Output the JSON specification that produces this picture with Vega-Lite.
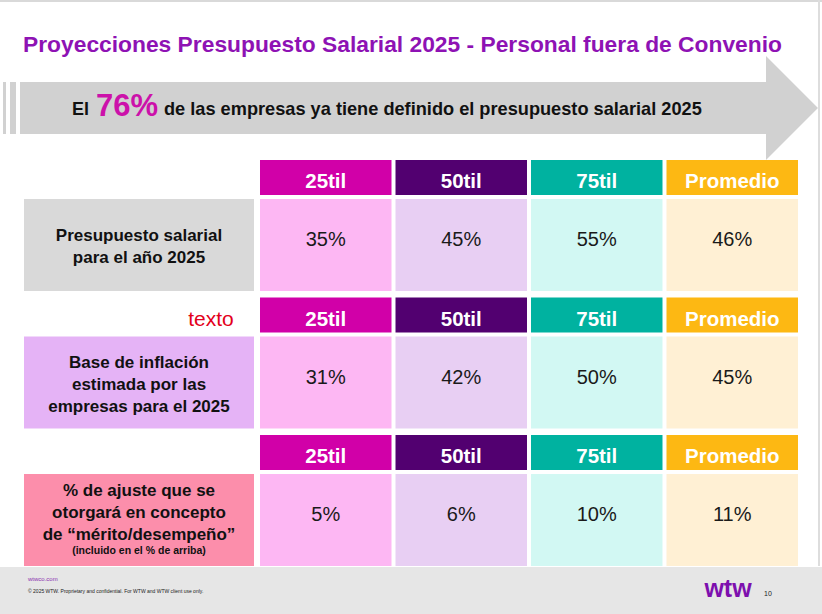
{
  "$schema": "https://vega.github.io/schema/vega-lite/v6.json",
  "width": 822,
  "height": 614,
  "padding": 0,
  "autosize": {"type": "none"},
  "background": "#ffffff",
  "config": {
    "view": {"stroke": null},
    "axis": {"disable": true},
    "legend": {"disable": true},
    "text": {"font": "Liberation Sans"}
  },
  "datasets": {
    "celdas": [
      {"indicador": "Presupuesto salarial 2025", "percentil": "25til", "valor": 0.35},
      {"indicador": "Presupuesto salarial 2025", "percentil": "50til", "valor": 0.45},
      {"indicador": "Presupuesto salarial 2025", "percentil": "75til", "valor": 0.55},
      {"indicador": "Presupuesto salarial 2025", "percentil": "Promedio", "valor": 0.46},
      {"indicador": "Base de inflación 2025", "percentil": "25til", "valor": 0.31},
      {"indicador": "Base de inflación 2025", "percentil": "50til", "valor": 0.42},
      {"indicador": "Base de inflación 2025", "percentil": "75til", "valor": 0.50},
      {"indicador": "Base de inflación 2025", "percentil": "Promedio", "valor": 0.45},
      {"indicador": "Ajuste por mérito", "percentil": "25til", "valor": 0.05},
      {"indicador": "Ajuste por mérito", "percentil": "50til", "valor": 0.06},
      {"indicador": "Ajuste por mérito", "percentil": "75til", "valor": 0.10},
      {"indicador": "Ajuste por mérito", "percentil": "Promedio", "valor": 0.11}
    ],
    "filas": [
      {"indicador": "Presupuesto salarial 2025", "concepto": "Presupuesto salarial\npara el año 2025"},
      {"indicador": "Base de inflación 2025", "concepto": "Base de inflación\nestimada por las\nempresas para el 2025"},
      {"indicador": "Ajuste por mérito", "concepto": "% de ajuste que se\notorgará en concepto\nde “mérito/desempeño”", "nota": "(incluido en el % de arriba)"}
    ]
  },
  "resolve": {"scale": {"x": "independent", "y": "independent", "fill": "independent", "color": "independent"}},
  "layer": [
    {
      "data": {"values": [{"zona": "borde superior"}]},
      "mark": {"type": "rect", "fill": "#d9d9d9"},
      "encoding": {
        "x": {"field": "zona", "type": "nominal", "scale": {"type": "band", "paddingInner": 0, "paddingOuter": 0}},
        "y": {"field": "zona", "type": "nominal", "scale": {"type": "band", "paddingInner": 0.99346, "paddingOuter": 1, "align": 0}}
      }
    },
    {
      "data": {"values": [{"zona": "borde derecho"}]},
      "mark": {"type": "rect", "fill": "#dddddd"},
      "encoding": {
        "x": {"field": "zona", "type": "nominal", "scale": {"type": "band", "paddingInner": 0.99512, "paddingOuter": 1, "align": 0.99756}},
        "y": {"field": "zona", "type": "nominal", "scale": {"type": "band", "paddingInner": 0, "paddingOuter": 0.0424, "align": 0}}
      }
    },
    {
      "data": {"values": [{"zona": "pie"}]},
      "mark": {"type": "rect", "fill": "#e6e6e6"},
      "encoding": {
        "x": {"field": "zona", "type": "nominal", "scale": {"type": "band", "paddingInner": 0, "paddingOuter": 0}},
        "y": {"field": "zona", "type": "nominal", "scale": {"type": "band", "paddingInner": 0.83422, "paddingOuter": 1, "align": 1}}
      }
    },
    {
      "data": {"values": [{"zona": "banner"}]},
      "mark": {
        "type": "point", "filled": true, "fill": "#d1d1d1", "opacity": 1, "strokeWidth": 0,
        "size": 664225,
        "shape": "M-1,-0.0638L-0.9926,-0.0638L-0.9926,0.0638L-1,0.0638Z M-0.9828,-0.0638L-0.9681,-0.0638L-0.9681,0.0638L-0.9828,0.0638Z M-0.9583,-0.0638L0.8724,-0.0638L0.8724,-0.1276L1,0L0.8724,0.1276L0.8724,0.0638L-0.9583,0.0638Z"
      },
      "encoding": {
        "x": {"field": "zona", "type": "nominal", "scale": {"type": "point", "align": 0.49939}},
        "y": {"field": "zona", "type": "nominal", "scale": {"type": "point", "align": 0.1759}}
      }
    },
    {
      "data": {"values": [{"titulo": "Proyecciones Presupuesto Salarial 2025 -  Personal fuera de Convenio"}]},
      "mark": {"type": "text", "fontSize": 22.8, "fontWeight": "bold", "fill": "#8e12b4", "align": "center", "baseline": "middle"},
      "encoding": {
        "x": {"field": "titulo", "type": "nominal", "scale": {"type": "point", "align": 0.48966}},
        "y": {"field": "titulo", "type": "nominal", "scale": {"type": "point", "align": 0.07329}},
        "text": {"field": "titulo"}
      }
    },
    {
      "data": {"values": [{"frase": "El"}]},
      "mark": {"type": "text", "fontSize": 18, "fontWeight": "bold", "fill": "#111111", "align": "left", "baseline": "alphabetic"},
      "encoding": {
        "x": {"field": "frase", "type": "nominal", "scale": {"type": "point", "align": 0.08759}},
        "y": {"field": "frase", "type": "nominal", "scale": {"type": "point", "align": 0.1873}},
        "text": {"field": "frase"}
      }
    },
    {
      "data": {"values": [{"frase": "76%"}]},
      "mark": {"type": "text", "fontSize": 31, "fontWeight": "bold", "fill": "#cc11aa", "align": "left", "baseline": "alphabetic"},
      "encoding": {
        "x": {"field": "frase", "type": "nominal", "scale": {"type": "point", "align": 0.11679}},
        "y": {"field": "frase", "type": "nominal", "scale": {"type": "point", "align": 0.18893}},
        "text": {"field": "frase"}
      }
    },
    {
      "data": {"values": [{"frase": "de las empresas ya tiene definido el presupuesto salarial 2025"}]},
      "mark": {"type": "text", "fontSize": 18.2, "fontWeight": "bold", "fill": "#111111", "align": "left", "baseline": "alphabetic"},
      "encoding": {
        "x": {"field": "frase", "type": "nominal", "scale": {"type": "point", "align": 0.19951}},
        "y": {"field": "frase", "type": "nominal", "scale": {"type": "point", "align": 0.1873}},
        "text": {"field": "frase"}
      }
    },
    {
      "data": {"name": "celdas"},
      "mark": {"type": "rect"},
      "encoding": {
        "x": {"field": "percentil", "type": "nominal", "scale": {"type": "band", "domain": ["Concepto", "25til", "50til", "75til", "Promedio"], "paddingInner": 0.02952, "paddingOuter": 0.54797, "align": 0.83838}},
        "y": {"field": "indicador", "type": "nominal", "scale": {"type": "band", "domain": ["Presupuesto salarial 2025", "Base de inflación 2025", "Ajuste por mérito", "(fin)"], "paddingInner": 0.74545, "paddingOuter": 0.60545, "align": 0.96096}},
        "fill": {"field": "percentil", "type": "nominal", "scale": {"domain": ["25til", "50til", "75til", "Promedio"], "range": ["#d100a8", "#520070", "#00b2a0", "#fdb813"]}, "legend": null}
      }
    },
    {
      "data": {"name": "celdas"},
      "mark": {"type": "text", "fontSize": 20.5, "fontWeight": "bold", "fill": "#ffffff", "align": "center", "baseline": "middle", "dy": 5},
      "encoding": {
        "x": {"field": "percentil", "type": "nominal", "scale": {"type": "band", "domain": ["Concepto", "25til", "50til", "75til", "Promedio"], "paddingInner": 0.02952, "paddingOuter": 0.54797, "align": 0.83838}},
        "y": {"field": "indicador", "type": "nominal", "scale": {"type": "band", "domain": ["Presupuesto salarial 2025", "Base de inflación 2025", "Ajuste por mérito", "(fin)"], "paddingInner": 0.74545, "paddingOuter": 0.60545, "align": 0.96096}},
        "text": {"field": "percentil"}
      }
    },
    {
      "data": {"name": "celdas"},
      "mark": {"type": "rect"},
      "encoding": {
        "x": {"field": "percentil", "type": "nominal", "scale": {"type": "band", "domain": ["Concepto", "25til", "50til", "75til", "Promedio"], "paddingInner": 0.02952, "paddingOuter": 0.54797, "align": 0.83838}},
        "y": {"field": "indicador", "type": "nominal", "scale": {"type": "band", "domain": ["Presupuesto salarial 2025", "Base de inflación 2025", "Ajuste por mérito"], "paddingInner": 0.33091, "paddingOuter": 0.89818, "align": 0.80567}},
        "fill": {"field": "percentil", "type": "nominal", "scale": {"domain": ["25til", "50til", "75til", "Promedio"], "range": ["#fdb7f3", "#e8cff3", "#d2f8f3", "#fff0d4"]}, "legend": null}
      }
    },
    {
      "data": {"name": "celdas"},
      "mark": {"type": "text", "fontSize": 20, "fill": "#1a1a1a", "align": "center", "baseline": "middle", "dy": -5},
      "encoding": {
        "x": {"field": "percentil", "type": "nominal", "scale": {"type": "band", "domain": ["Concepto", "25til", "50til", "75til", "Promedio"], "paddingInner": 0.02952, "paddingOuter": 0.54797, "align": 0.83838}},
        "y": {"field": "indicador", "type": "nominal", "scale": {"type": "band", "domain": ["Presupuesto salarial 2025", "Base de inflación 2025", "Ajuste por mérito"], "paddingInner": 0.33091, "paddingOuter": 0.89818, "align": 0.80567}},
        "text": {"field": "valor", "type": "quantitative", "format": ".0%"}
      }
    },
    {
      "data": {"name": "filas"},
      "mark": {"type": "rect"},
      "encoding": {
        "x": {"datum": "concepto", "type": "nominal", "scale": {"type": "band", "paddingInner": 0.22297, "paddingOuter": 1, "align": 0.04054}},
        "y": {"field": "indicador", "type": "nominal", "scale": {"type": "band", "domain": ["Presupuesto salarial 2025", "Base de inflación 2025", "Ajuste por mérito"], "paddingInner": 0.33091, "paddingOuter": 0.89818, "align": 0.80567}},
        "fill": {"field": "indicador", "type": "nominal", "scale": {"domain": ["Presupuesto salarial 2025", "Base de inflación 2025", "Ajuste por mérito"], "range": ["#d9d9d9", "#e5b3f6", "#fc8eab"]}, "legend": null}
      }
    },
    {
      "data": {"name": "filas"},
      "transform": [{"filter": "datum.indicador == 'Presupuesto salarial 2025'"}],
      "mark": {"type": "text", "fontSize": 17, "fontWeight": "bold", "fill": "#111111", "align": "center", "baseline": "middle", "lineBreak": "\n", "lineHeight": 22, "dy": -9.5},
      "encoding": {
        "x": {"datum": "concepto", "type": "nominal", "scale": {"type": "band", "paddingInner": 0.22297, "paddingOuter": 1, "align": 0.04054}},
        "y": {"field": "indicador", "type": "nominal", "scale": {"type": "band", "domain": ["Presupuesto salarial 2025", "Base de inflación 2025", "Ajuste por mérito"], "paddingInner": 0.33091, "paddingOuter": 0.89818, "align": 0.80567}},
        "text": {"field": "concepto"}
      }
    },
    {
      "data": {"name": "filas"},
      "transform": [{"filter": "datum.indicador == 'Base de inflación 2025'"}],
      "mark": {"type": "text", "fontSize": 17, "fontWeight": "bold", "fill": "#111111", "align": "center", "baseline": "middle", "lineBreak": "\n", "lineHeight": 22, "dy": -20},
      "encoding": {
        "x": {"datum": "concepto", "type": "nominal", "scale": {"type": "band", "paddingInner": 0.22297, "paddingOuter": 1, "align": 0.04054}},
        "y": {"field": "indicador", "type": "nominal", "scale": {"type": "band", "domain": ["Presupuesto salarial 2025", "Base de inflación 2025", "Ajuste por mérito"], "paddingInner": 0.33091, "paddingOuter": 0.89818, "align": 0.80567}},
        "text": {"field": "concepto"}
      }
    },
    {
      "data": {"name": "filas"},
      "transform": [{"filter": "datum.indicador == 'Ajuste por mérito'"}],
      "mark": {"type": "text", "fontSize": 17, "fontWeight": "bold", "fill": "#111111", "align": "center", "baseline": "middle", "lineBreak": "\n", "lineHeight": 22, "dy": -29},
      "encoding": {
        "x": {"datum": "concepto", "type": "nominal", "scale": {"type": "band", "paddingInner": 0.22297, "paddingOuter": 1, "align": 0.04054}},
        "y": {"field": "indicador", "type": "nominal", "scale": {"type": "band", "domain": ["Presupuesto salarial 2025", "Base de inflación 2025", "Ajuste por mérito"], "paddingInner": 0.33091, "paddingOuter": 0.89818, "align": 0.80567}},
        "text": {"field": "concepto"}
      }
    },
    {
      "data": {"name": "filas"},
      "transform": [{"filter": "datum.nota != null"}],
      "mark": {"type": "text", "fontSize": 10.5, "fontWeight": "bold", "fill": "#111111", "align": "center", "baseline": "middle", "dy": 31},
      "encoding": {
        "x": {"datum": "concepto", "type": "nominal", "scale": {"type": "band", "paddingInner": 0.22297, "paddingOuter": 1, "align": 0.04054}},
        "y": {"field": "indicador", "type": "nominal", "scale": {"type": "band", "domain": ["Presupuesto salarial 2025", "Base de inflación 2025", "Ajuste por mérito"], "paddingInner": 0.33091, "paddingOuter": 0.89818, "align": 0.80567}},
        "text": {"field": "nota"}
      }
    },
    {
      "data": {"values": [{"marcador": "texto"}]},
      "mark": {"type": "text", "fontSize": 21, "fill": "#e3001b", "align": "center", "baseline": "middle"},
      "encoding": {
        "x": {"field": "marcador", "type": "nominal", "scale": {"type": "point", "align": 0.2567}},
        "y": {"field": "marcador", "type": "nominal", "scale": {"type": "point", "align": 0.5212}},
        "text": {"field": "marcador"}
      }
    },
    {
      "data": {"values": [{"pie": "wtwco.com"}]},
      "mark": {"type": "text", "fontSize": 6, "fill": "#8a2fb0", "align": "left", "baseline": "middle"},
      "encoding": {
        "x": {"field": "pie", "type": "nominal", "scale": {"type": "point", "align": 0.03406}},
        "y": {"field": "pie", "type": "nominal", "scale": {"type": "point", "align": 0.943}},
        "text": {"field": "pie"}
      }
    },
    {
      "data": {"values": [{"pie": "© 2025 WTW. Proprietary and confidential. For WTW and WTW client use only."}]},
      "mark": {"type": "text", "fontSize": 5, "fill": "#222222", "align": "left", "baseline": "middle"},
      "encoding": {
        "x": {"field": "pie", "type": "nominal", "scale": {"type": "point", "align": 0.03406}},
        "y": {"field": "pie", "type": "nominal", "scale": {"type": "point", "align": 0.96254}},
        "text": {"field": "pie"}
      }
    },
    {
      "data": {"values": [{"logo": "wtw"}]},
      "mark": {"type": "text", "fontSize": 25, "fontWeight": "bold", "fill": "#7d0fae", "align": "center", "baseline": "alphabetic", "letterSpacing": -1},
      "encoding": {
        "x": {"field": "logo", "type": "nominal", "scale": {"type": "point", "align": 0.88564}},
        "y": {"field": "logo", "type": "nominal", "scale": {"type": "point", "align": 0.9723}},
        "text": {"field": "logo"}
      }
    },
    {
      "data": {"values": [{"pagina": "10"}]},
      "mark": {"type": "text", "fontSize": 7, "fill": "#222222", "align": "center", "baseline": "alphabetic"},
      "encoding": {
        "x": {"field": "pagina", "type": "nominal", "scale": {"type": "point", "align": 0.93431}},
        "y": {"field": "pagina", "type": "nominal", "scale": {"type": "point", "align": 0.9707}},
        "text": {"field": "pagina"}
      }
    }
  ]
}
